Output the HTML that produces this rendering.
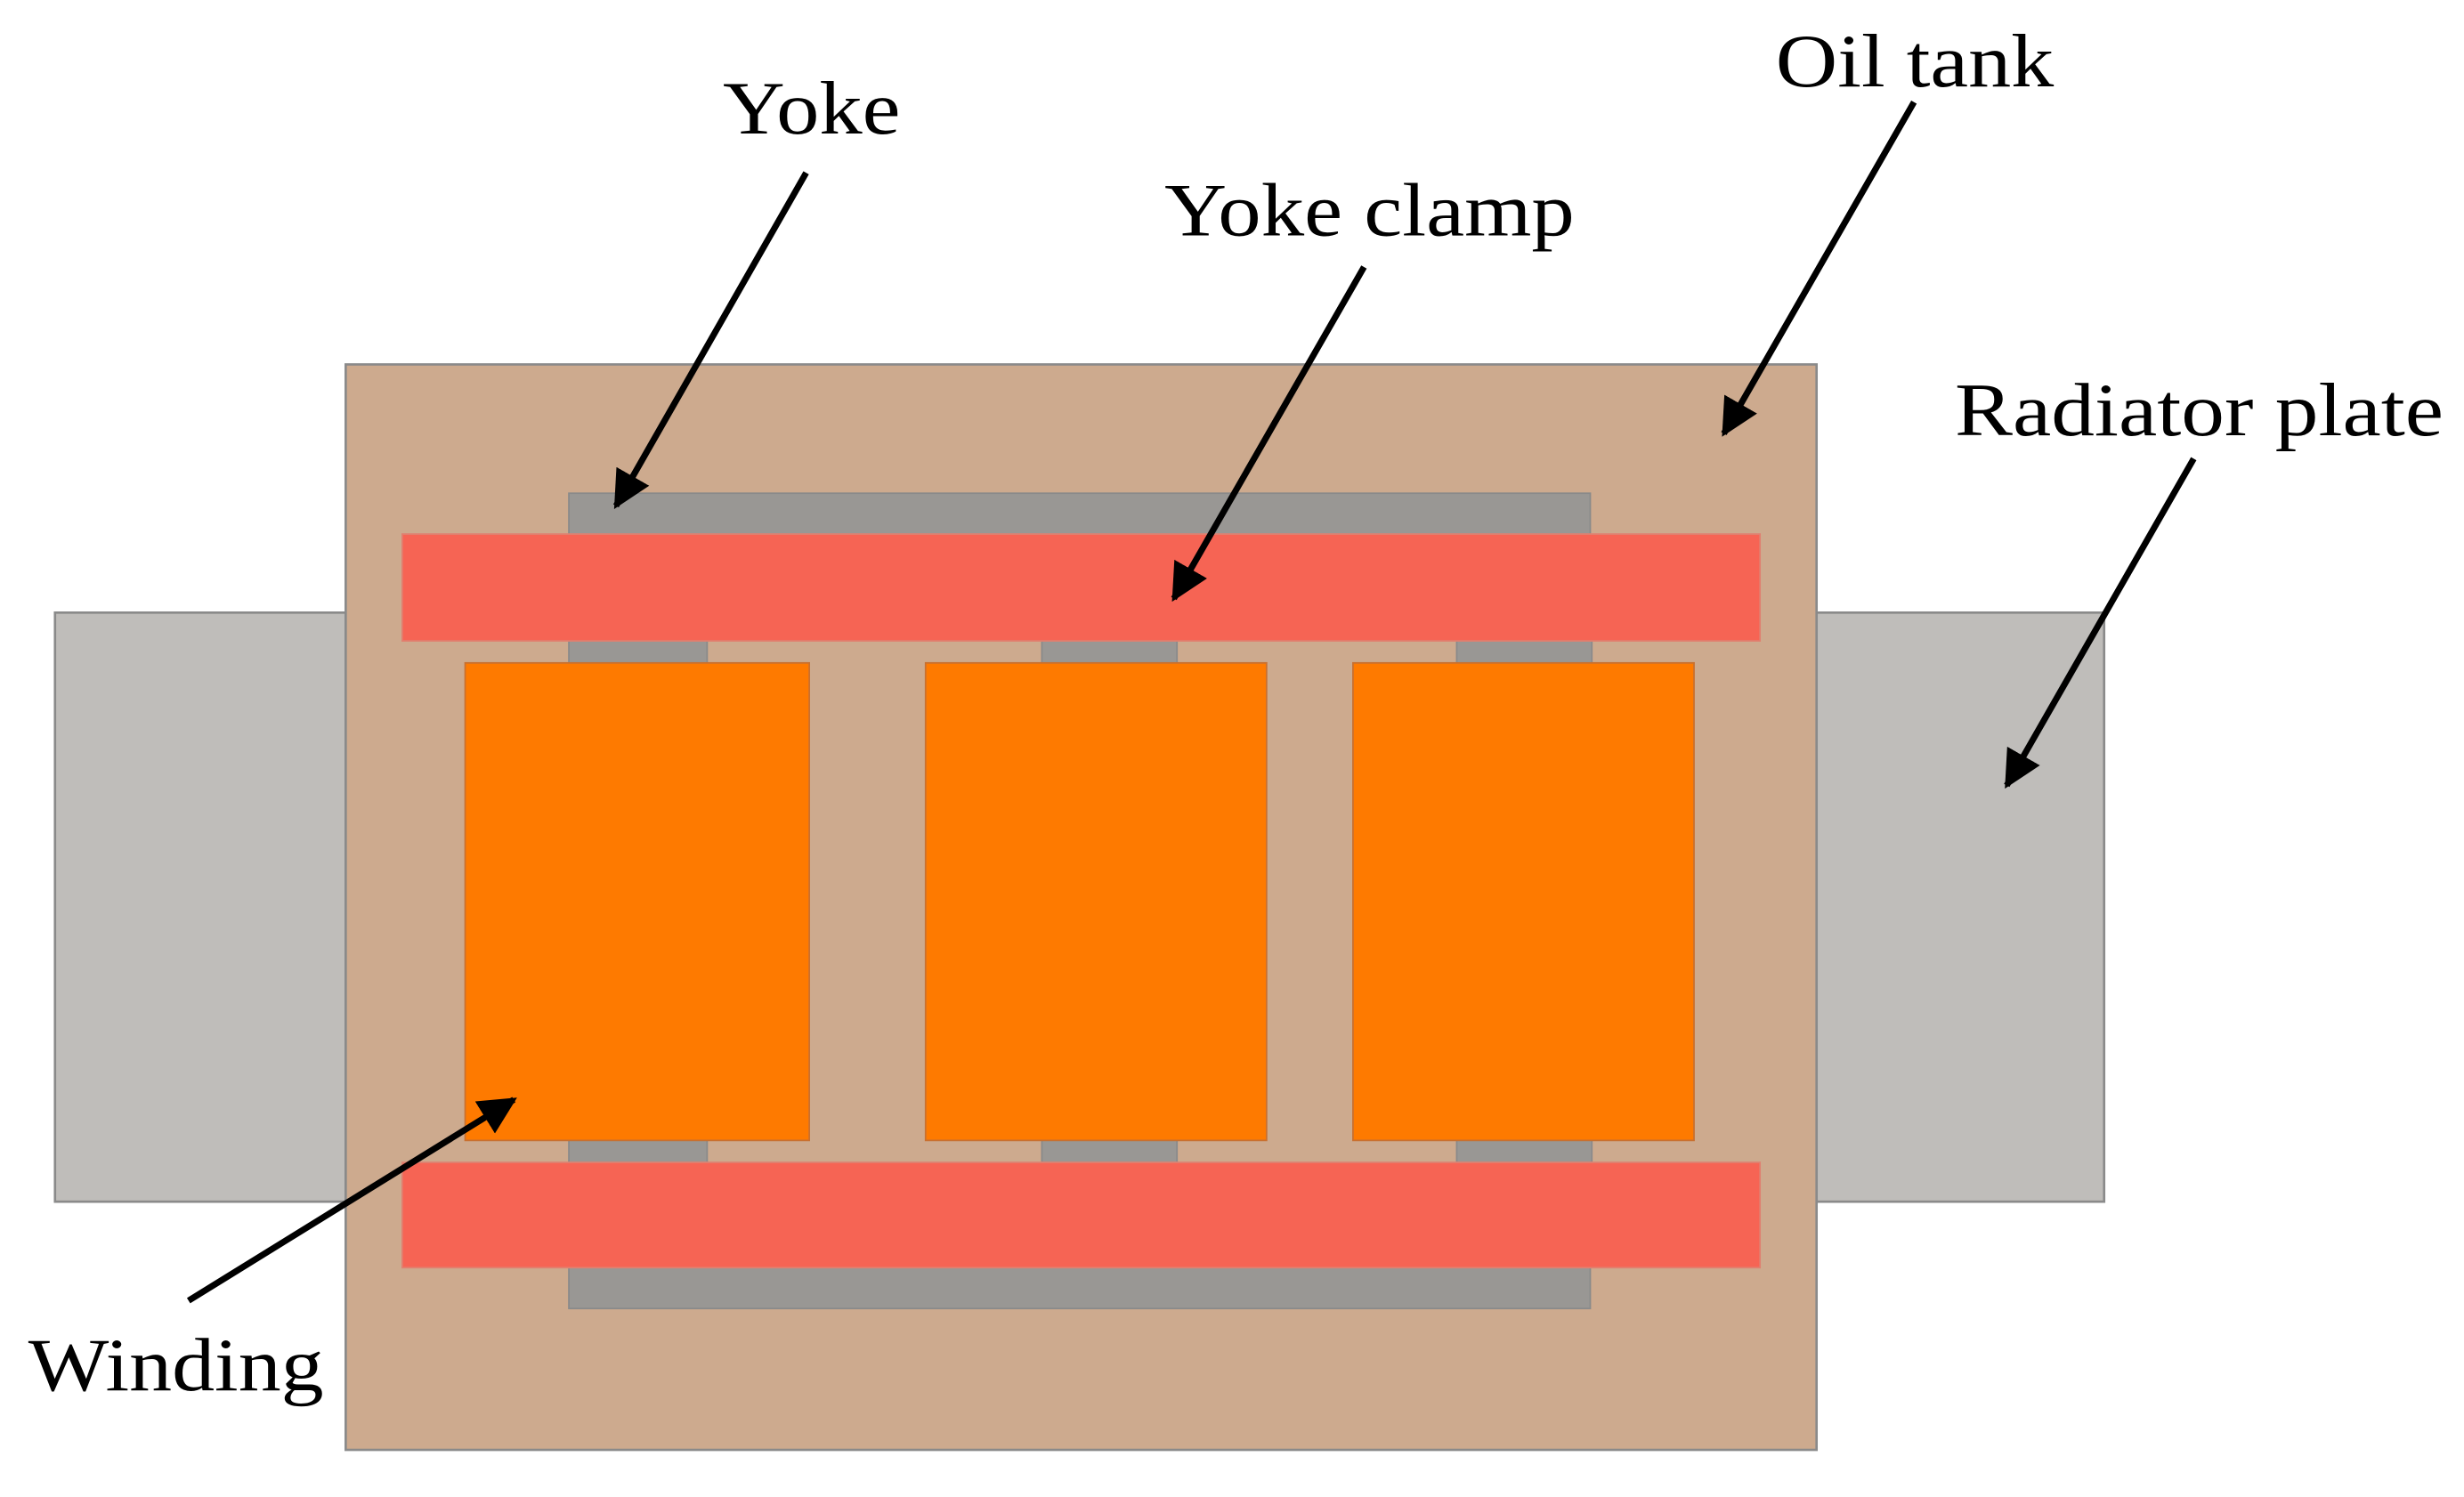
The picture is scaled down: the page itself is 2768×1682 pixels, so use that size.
<!DOCTYPE html>
<html><head><style>html,body{margin:0;padding:0;background:#fff}svg{display:block}</style></head>
<body>
<svg width="2768" height="1682" viewBox="0 0 1568 953" preserveAspectRatio="none" xmlns="http://www.w3.org/2000/svg">
<defs><marker id="a" viewBox="0 0 10 10" refX="9" refY="5" markerWidth="6" markerHeight="6" orient="auto" markerUnits="strokeWidth"><path d="M0,0 L10,5 L0,10 z" fill="#000"/></marker></defs>
<g stroke="#8a8a8a" stroke-width="1.5">
<rect x="35" y="390" width="185" height="375" fill="#bfbdba"/>
<rect x="1156" y="390" width="183" height="375" fill="#bfbdba"/>
<rect x="220" y="232" width="936" height="691" fill="#cdaa8e"/>
</g>
<g fill="#999794" stroke="#8a8a8a" stroke-width="1">
<rect x="362" y="314" width="650" height="30"/>
<rect x="362" y="803" width="650" height="30"/>
<rect x="362" y="405" width="88" height="20"/><rect x="663" y="405" width="86" height="20"/><rect x="927" y="405" width="86" height="20"/>
<rect x="362" y="722" width="88" height="20"/><rect x="663" y="722" width="86" height="20"/><rect x="927" y="722" width="86" height="20"/>
</g>
<g fill="#f66454" stroke="#e08070" stroke-width="1">
<rect x="256" y="340" width="864" height="68"/>
<rect x="256" y="740" width="864" height="67"/>
</g>
<g fill="#fe7a00" stroke="#c87030" stroke-width="1">
<rect x="296" y="422" width="219" height="304"/>
<rect x="589" y="422" width="217" height="304"/>
<rect x="861" y="422" width="217" height="304"/>
</g>
<g stroke="#000" stroke-width="4" marker-end="url(#a)">
<line x1="513" y1="110" x2="392" y2="322"/>
<line x1="868" y1="170" x2="747" y2="381"/>
<line x1="1218" y1="65" x2="1097" y2="276"/>
<line x1="1396" y1="292" x2="1277" y2="500"/>
<line x1="120" y1="828" x2="327" y2="700"/>
</g>
<g font-family="Liberation Serif, serif" font-size="48" fill="#000">
<text x="460" y="85" textLength="113" lengthAdjust="spacingAndGlyphs">Yoke</text>
<text x="1130" y="55" textLength="177" lengthAdjust="spacingAndGlyphs">Oil tank</text>
<text x="741" y="150" textLength="261" lengthAdjust="spacingAndGlyphs">Yoke clamp</text>
<text x="1244" y="277" textLength="311" lengthAdjust="spacingAndGlyphs">Radiator plate</text>
<text x="18" y="885" textLength="188" lengthAdjust="spacingAndGlyphs">Winding</text>
</g>
</svg>
</body></html>
